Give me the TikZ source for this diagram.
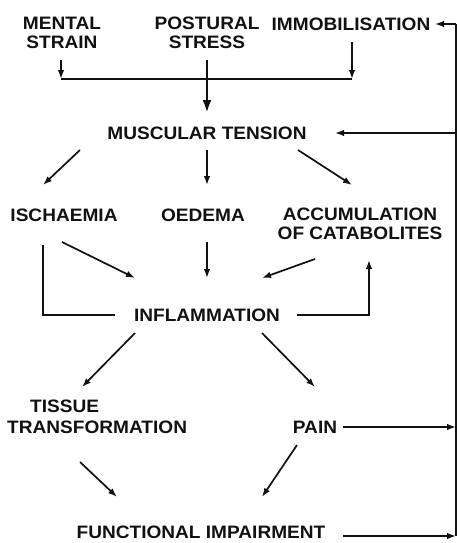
\documentclass[tikz,border=0pt]{standalone}
\usepackage{fontspec}
\setmainfont{Liberation Sans}[FakeStretch=1.06]
\usepackage{tikz}
\usetikzlibrary{arrows.meta, calc}
\definecolor{dInk}{HTML}{111111}

\begin{document}
\begin{tikzpicture}[x=1pt, y=-1pt, >={Latex[length=9pt,width=6.5pt]},
  lbl/.style={inner sep=0pt, align=center, text=dInk, font=\fontsize{18}{18.5}\selectfont\bfseries},
  link/.style={line width=1.7pt, draw=dInk, line cap=butt},
  mainlink/.style={link, line width=2.6pt, -{Latex[length=13pt,width=9pt]}}]
  \useasboundingbox (0,0) rectangle (459,543);
  % causes
  \node[lbl] (mental) at (62,33) {MENTAL\\STRAIN};
  \node[lbl] (postural) at (207,33) {POSTURAL\\STRESS};
  \node[lbl] (immob) at (351,24) {IMMOBILISATION};
  \coordinate (bar) at (0,79);
  % core chain
  \node[lbl] (tension) at (207,133) {MUSCULAR TENSION};
  \node[lbl] (ischaemia) at (64,215) {ISCHAEMIA};
  \node[lbl] (oedema) at (203,215) {OEDEMA};
  \node[lbl] (accum) at (360,224) {ACCUMULATION\\OF CATABOLITES};
  \node[lbl] (inflam) at (207,315) {INFLAMMATION};
  \node[lbl, align=left, anchor=west] (tissue) at (7,417) {\hspace*{23pt}TISSUE\\[2pt]TRANSFORMATION};
  \node[lbl] (pain) at (315,427) {PAIN};
  \node[lbl] (functional) at (201,532) {FUNCTIONAL IMPAIRMENT};
  % feedback rail
  \coordinate (rTop) at (456,24);
  \coordinate (rBot) at (456,536);

  \draw[link,->] ($(mental)+(-1,27)$) -- ($(mental |- bar)+(-1,0)$);
  \draw[link,->] ($(immob)+(1,18)$) -- ($(immob |- bar)+(1,0)$);
  \draw[link] ($(mental |- bar)+(-1,0)$) -- ($(immob |- bar)+(1,0)$);
  \draw[mainlink] ($(postural)+(0,27)$) -- ($(tension)+(0,-20)$);

  \draw[link,->] ($(tension)+(-127,17)$) -- ($(ischaemia)+(-21,-30)$);
  \draw[link,->] ($(tension)+(0,17)$) -- ($(oedema)+(4,-30)$);
  \draw[link,->] ($(tension)+(91,17)$) -- ($(accum)+(-8,-39)$);

  \draw[link,->] ($(ischaemia)+(-2,27)$) -- ($(inflam)+(-72,-37)$);
  \draw[link,->] ($(oedema)+(4,27)$) -- ($(inflam)+(0,-37)$);
  \draw[link,->] ($(accum)+(-45,35)$) -- ($(inflam)+(55,-37)$);
  \draw[link] ($(ischaemia)+(-21,30)$) |- ($(inflam)+(-92,0)$);
  \draw[link,->] ($(inflam)+(90,0)$) -| ($(accum)+(9,36)$);

  \draw[link,->] ($(inflam)+(-72,18)$) -- ($(tissue.west)+(75,-30)$);
  \draw[link,->] ($(inflam)+(55,18)$) -- ($(pain)+(0,-40)$);
  \draw[link,->] ($(tissue.west)+(73,45)$) -- ($(functional)+(-84,-35)$);
  \draw[link,->] ($(pain)+(-18,18)$) -- ($(functional)+(61,-35)$);

  % feedback
  \draw[link] (rTop) -- (rBot);
  \draw[link,->] ($(pain)+(28,0)$) -- (rTop |- pain);
  \draw[link,->] ($(functional)+(142,4)$) -- (rBot);
  \draw[link,->] (rTop |- tension) -- ($(tension)+(128,0)$);
  \draw[link,->] (rTop) -- ($(immob)+(84,0)$);
\end{tikzpicture}
\end{document}
